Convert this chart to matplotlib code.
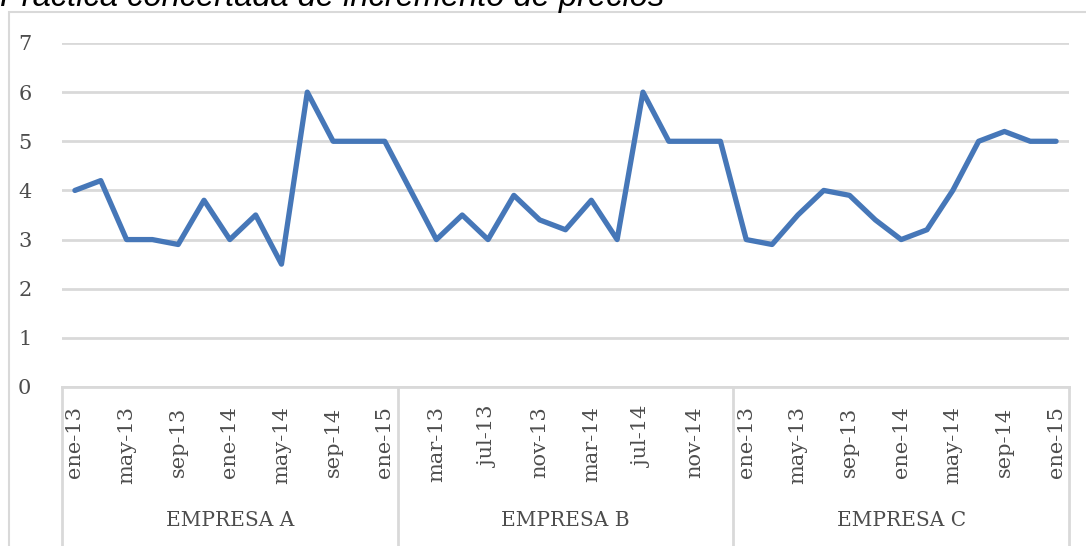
import matplotlib.pyplot as plt
from matplotlib.patches import Rectangle

# data
months = ["ene-13", "mar-13", "may-13", "jul-13", "sep-13", "nov-13", "ene-14",
          "mar-14", "may-14", "jul-14", "sep-14", "nov-14", "ene-15"]
groups = ["EMPRESA A", "EMPRESA B", "EMPRESA C"]
empresa_a = [4.0, 4.2, 3.0, 3.0, 2.9, 3.8, 3.0, 3.5, 2.5, 6.0, 5.0, 5.0, 5.0]
empresa_b = [4.0, 3.0, 3.5, 3.0, 3.9, 3.4, 3.2, 3.8, 3.0, 6.0, 5.0, 5.0, 5.0]
empresa_c = [3.0, 2.9, 3.5, 4.0, 3.9, 3.4, 3.0, 3.2, 4.0, 5.0, 5.2, 5.0, 5.0]

values = empresa_a + empresa_b + empresa_c
labels = months * 3
x = list(range(len(values)))
n = len(months)

W, H = 1086, 546
fig = plt.figure(figsize=(W / 100, H / 100), dpi=100)
ax = fig.add_axes([62 / W, 1 - 387 / H, (1069 - 62) / W, (387 - 43) / H])

grid_c = "#d9d9d9"
text_c = "#4d4d4d"
serif = "DejaVu Serif"

# outer chart border
fig.add_artist(Rectangle((9 / W, -0.1), 1.2, 0.1 + (H - 12) / H,
                         transform=fig.transFigure, fill=False,
                         ec=grid_c, lw=1.5))

# title (partly cut off at the top, as in the source)
fig.text(0.0, 1 - 6 / H, "Práctica concertada de incremento de precios",
         family="Liberation Sans", style="italic", fontsize=23.5,
         color="#000000", ha="left", va="baseline")

ax.plot(x, values, color="#4677B8", lw=3.8, solid_joinstyle="round",
        solid_capstyle="round", zorder=3)

ax.set_xlim(-0.5, len(values) - 0.5)
ax.set_ylim(0, 7)
ax.set_yticks(range(0, 8))
ax.yaxis.grid(True, color=grid_c, lw=2)
ax.set_axisbelow(True)
for s in ["top", "right", "left"]:
    ax.spines[s].set_visible(False)
ax.spines["bottom"].set_color(grid_c)
ax.spines["bottom"].set_linewidth(2)

ax.tick_params(axis="y", length=0, pad=22, labelcolor=text_c)
for t in ax.get_yticklabels():
    t.set_fontfamily(serif)
    t.set_fontsize(15)

ax.set_xticks(x[::2])
ax.set_xticklabels(labels[::2], rotation=90, family=serif, fontsize=15,
                   color=text_c)
ax.tick_params(axis="x", length=0, pad=14)

# group separators and labels
tr = ax.get_xaxis_transform()
for k in range(len(groups) + 1):
    xs = k * n - 0.5
    ax.plot([xs, xs], [0, -0.5], transform=tr, color=grid_c, lw=2,
            clip_on=False)
for k, g in enumerate(groups):
    ax.text(k * n + (n - 1) / 2, -(521 - 387) / 344, g, transform=tr,
            ha="center", va="center", family=serif, fontsize=14.5,
            color=text_c)

fig.savefig("out.png", dpi=100)
